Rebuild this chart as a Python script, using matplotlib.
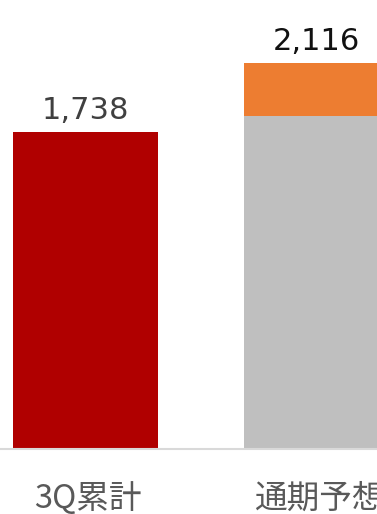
import matplotlib.pyplot as plt
import matplotlib.transforms as mtransforms

# values (stacked for the forecast bar)
categories = ['3Q累計', '通期予想']
base_values = [1738, 1826]
extra_values = [0, 290]
totals = [1738, 2116]
total_labels = ['1,738', '2,116']

base_colors = ['#B00000', '#BFBFBF']
label_colors = ['#404040', '#111111']

fig = plt.figure(figsize=(3.77, 5.14), dpi=100)
ax = fig.add_axes([0, 65/514, 1, 449/514])

x = range(len(categories))
ax.bar(x, base_values, width=0.628, color=base_colors)
ax.bar(x, extra_values, width=0.628, bottom=base_values, color='#ED7D31')

for i in x:
    ax.annotate(total_labels[i], xy=(i, totals[i]), xytext=(0, 9), textcoords='offset points',
                ha='center', va='baseline', fontsize=22, color=label_colors[i],
                family='DejaVu Sans')

# category names under the baseline
trans = mtransforms.blended_transform_factory(ax.transData, ax.transAxes)
for i in x:
    ax.text(i + 0.01, -50/449, categories[i], transform=trans, ha='center', va='center',
            fontsize=23.5, color='#595959', family=['Noto Sans CJK JP', 'DejaVu Sans'])

ax.set_xlim(-0.370, 1.262)
ax.set_ylim(0, 2461)
ax.axhline(0, color='#D9D9D9', linewidth=1.5, clip_on=False)
for s in ax.spines.values():
    s.set_visible(False)
ax.set_xticks([])
ax.set_yticks([])

fig.savefig('out.png', dpi=100)
